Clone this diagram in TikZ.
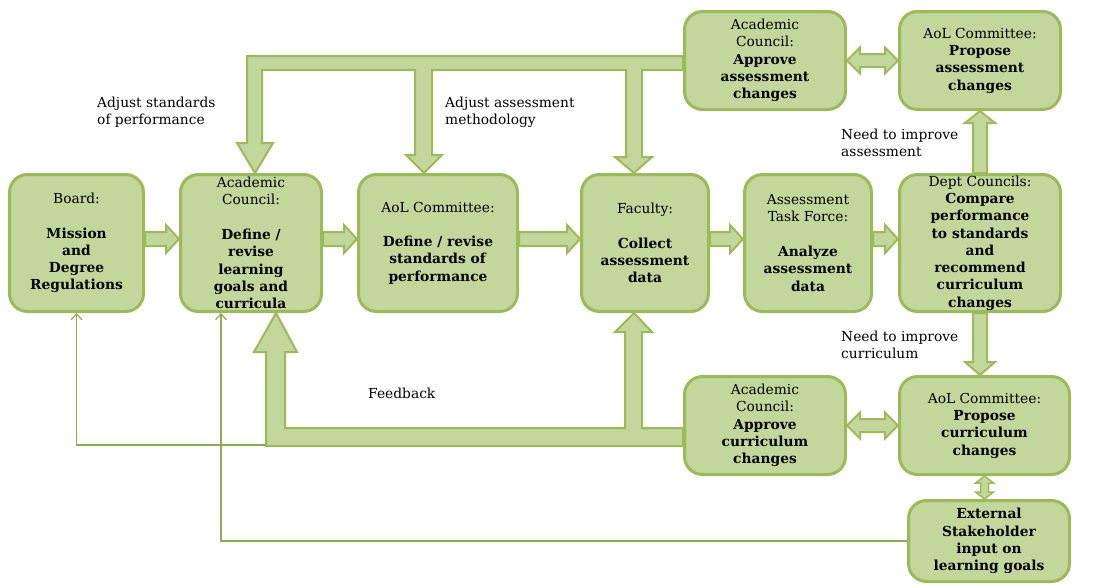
\documentclass[tikz,border=0pt]{standalone}
\usepackage{fontspec}
\setmainfont{DejaVu Serif}
\usepackage{xcolor}
\usetikzlibrary{arrows.meta}
\usetikzlibrary{calc}
\usetikzlibrary{backgrounds}

\definecolor{aolfill}{HTML}{C3D69B}
\definecolor{aolline}{HTML}{9BBB59}
\definecolor{aolthin}{HTML}{8DAA55}

\begin{document}
\begin{tikzpicture}[x=1pt, y=-1pt,
    box/.style={draw=aolline, fill=aolfill, line width=3pt, rounded corners=18pt,
      align=center, inner sep=0pt, font=\fontsize{13.8}{17.3}\selectfont},
    lbl/.style={anchor=west, align=left, inner sep=0pt, font=\fontsize{13.8}{17.3}\selectfont},
    blockarrow/.style={draw=aolline, fill=aolfill, line width=2pt, line join=miter},
    thinarrow/.style={draw=aolthin, line width=1.2pt, -{Straight Barb[length=6pt,width=11pt]}}]

      \useasboundingbox (0,0) rectangle (1094,584);

      % main row
      \node[box, minimum width=134pt, minimum height=137pt] (board) at (76.5,243)
        {Board:\\[17.3pt]\textbf{Mission}\\\textbf{and}\\\textbf{Degree}\\\textbf{Regulations}};
      \node[box, minimum width=141pt, minimum height=137pt] (acdef) at (251,243)
        {Academic\\Council:\\[17.3pt]\textbf{Define /}\\\textbf{revise}\\\textbf{learning}\\\textbf{goals and}\\\textbf{curricula}};
      \node[box, minimum width=159pt, minimum height=137pt] (aolstd) at (438,243)
        {AoL Committee:\\[17.3pt]\textbf{Define / revise}\\\textbf{standards of}\\\textbf{performance}};
      \node[box, minimum width=127pt, minimum height=137pt] (faculty) at (645,243)
        {Faculty:\\[17.3pt]\textbf{Collect}\\\textbf{assessment}\\\textbf{data}};
      \node[box, minimum width=127pt, minimum height=137pt] (atf) at (808,243)
        {Assessment\\Task Force:\\[17.3pt]\textbf{Analyze}\\\textbf{assessment}\\\textbf{data}};
      \node[box, minimum width=161pt, minimum height=137pt] (dept) at (980,243)
        {Dept Councils:\\\textbf{Compare}\\\textbf{performance}\\\textbf{to standards}\\\textbf{and}\\\textbf{recommend}\\\textbf{curriculum}\\\textbf{changes}};

      % assessment loop
      \node[box, minimum width=161pt, minimum height=98pt] (acasm) at (765,60.5)
        {Academic\\Council:\\\textbf{Approve}\\\textbf{assessment}\\\textbf{changes}};
      \node[box, minimum width=161pt, minimum height=98pt] (aolasm) at (980,60.5)
        {AoL Committee:\\\textbf{Propose}\\\textbf{assessment}\\\textbf{changes}};

      % curriculum loop
      \node[box, minimum width=161pt, minimum height=98pt] (accur) at (765,425.5)
        {Academic\\Council:\\\textbf{Approve}\\\textbf{curriculum}\\\textbf{changes}};
      \node[box, minimum width=170pt, minimum height=98pt] (aolcur) at (984.5,425.5)
        {AoL Committee:\\\textbf{Propose}\\\textbf{curriculum}\\\textbf{changes}};
      \node[box, minimum width=161pt, minimum height=81pt] (ext) at (989,541)
        {\textbf{External}\\\textbf{Stakeholder}\\\textbf{input on}\\\textbf{learning goals}};

      % labels
      \node[lbl] (adjstd) at (97,112) {Adjust standards\\of performance};
      \node[lbl] (adjasm) at (445,112) {Adjust assessment\\methodology};
      \node[lbl] (needasm) at (841,143) {Need to improve\\assessment};
      \node[lbl] (needcur) at (841,345) {Need to improve\\curriculum};
      \node[lbl] (feedback) at (368,393) {Feedback};

      \coordinate (tD) at (dept.south |- aolcur.north);
      \coordinate (tE) at (aolcur.south |- ext.north);
      \coordinate (fbcorner) at (266,445);

      \begin{pgfonlayer}{background}
      \foreach \a/\b in {board/acdef, acdef/aolstd, aolstd/faculty, faculty/atf, atf/dept}
        \draw[blockarrow] ($(\a.east)+(0,-11)$) -- ($(\b.west)+(-13,-11)$) -- ($(\b.west)+(-13,-18)$)
          -- ($(\b.west)+(0,-4)$) -- ($(\b.west)+(-13,10)$) -- ($(\b.west)+(-13,3)$) -- ($(\a.east)+(0,3)$) -- cycle;

      \foreach \a/\b in {acasm/aolasm, accur/aolcur}
        \draw[blockarrow] (\a.east) -- ++(13,-13) -- ++(0,6.5) -- ($(\b.west)+(-13,-6.5)$) -- ++(0,-6.5)
          -- (\b.west) -- ++(-13,13) -- ++(0,-6.5) -- ($(\a.east)+(13,6.5)$) -- ++(0,6.5) -- cycle;

      % adjust standards / methodology
      \draw[blockarrow] ($(acasm.west)+(0,-4.5)$) -- (247,56) -- (247,143) -- (237,143)
        -- ($(acdef.north)+(4,0)$) -- (273,143) -- (262,143) -- (262,70) -- (415,70) -- (415,155)
        -- (406,155) -- ($(aolstd.north)+(-14,0)$) -- (442,155) -- (432,155) -- (432,70) -- (626,70)
        -- (626,157) -- (615,157) -- ($(faculty.north)+(-11,0)$) -- (652,157) -- (642,157) -- (642,70)
        -- ($(acasm.west)+(0,9.5)$) -- cycle;

      % feedback
      \draw[blockarrow] ($(accur.west)+(0,2.5)$) -- (642,428) -- (642,332) -- (652,332)
        -- ($(faculty.south)+(-11,0)$) -- (615,332) -- (625,332) -- (625,428) -- (285,428) -- (285,352)
        -- (297,352) -- ($(acdef.south)+(25,0)$) -- (254,352) -- (266,352) -- (266,446)
        -- ($(accur.west)+(0,20.5)$) -- cycle;

      % need to improve
      \draw[blockarrow] ($(dept.north)+(-7,0)$) -- ($(aolasm.south)+(-7,12)$) -- ($(aolasm.south)+(-15,12)$)
        -- (aolasm.south) -- ($(aolasm.south)+(15,12)$) -- ($(aolasm.south)+(7,12)$) -- ($(dept.north)+(7,0)$) -- cycle;
      \draw[blockarrow] ($(dept.south)+(-7,0)$) -- ($(tD)+(-7,-13)$) -- ($(tD)+(-15,-13)$)
        -- (tD) -- ($(tD)+(15,-13)$) -- ($(tD)+(7,-13)$) -- ($(dept.south)+(7,0)$) -- cycle;
      \draw[blockarrow, line width=1.5pt] (aolcur.south) -- ++(9,7) -- ++(-5,0) -- ($(tE)+(4,-7)$) -- ++(5,0)
        -- (tE) -- ++(-9,-7) -- ++(5,0) -- ($(aolcur.south)+(-4,7)$) -- ++(-5,0) -- cycle;
      \end{pgfonlayer}

      \draw[thinarrow] (fbcorner) -| (board.south);
      \draw[thinarrow] (ext.west) -| ($(acdef.south)+(-30,0)$);
    \end{tikzpicture}
\end{document}
